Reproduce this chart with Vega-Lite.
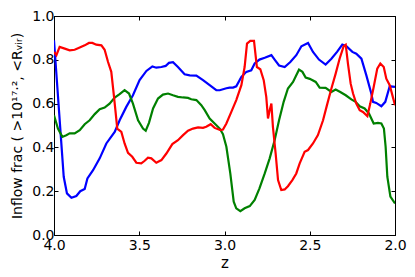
{
  "$schema": "https://vega.github.io/schema/vega-lite/v6.json",
  "width": 341,
  "height": 219,
  "autosize": "none",
  "padding": {"left": 54, "top": 16, "right": 20, "bottom": 42},
  "background": "white",
  "config": {
    "view": {"stroke": "black", "strokeWidth": 1},
    "font": "DejaVu Sans",
    "axis": {
      "grid": false,
      "domainColor": "black",
      "tickColor": "black",
      "labelColor": "black",
      "titleColor": "black",
      "labelFont": "DejaVu Sans",
      "titleFont": "DejaVu Sans",
      "labelFontSize": 14,
      "titleFontSize": 14,
      "titleFontWeight": "normal",
      "tickSize": -4,
      "labelFlush": false
    }
  },
  "data": {"values": [
    {"s":"b","z":4.000,"f":0.889},{"s":"b","z":3.943,"f":0.266},{"s":"b","z":3.924,"f":0.19},{"s":"b","z":3.898,"f":0.17},{"s":"b","z":3.869,"f":0.178},{"s":"b","z":3.846,"f":0.20},{"s":"b","z":3.820,"f":0.21},{"s":"b","z":3.804,"f":0.258},{"s":"b","z":3.771,"f":0.296},{"s":"b","z":3.732,"f":0.35},{"s":"b","z":3.693,"f":0.418},{"s":"b","z":3.644,"f":0.471},{"s":"b","z":3.615,"f":0.524},{"s":"b","z":3.576,"f":0.585},{"s":"b","z":3.537,"f":0.638},{"s":"b","z":3.498,"f":0.707},{"s":"b","z":3.458,"f":0.749},{"s":"b","z":3.423,"f":0.77},{"s":"b","z":3.400,"f":0.764},{"s":"b","z":3.370,"f":0.767},{"s":"b","z":3.345,"f":0.772},{"s":"b","z":3.326,"f":0.786},{"s":"b","z":3.302,"f":0.789},{"s":"b","z":3.273,"f":0.767},{"s":"b","z":3.234,"f":0.734},{"s":"b","z":3.204,"f":0.729},{"s":"b","z":3.165,"f":0.728},{"s":"b","z":3.126,"f":0.707},{"s":"b","z":3.087,"f":0.684},{"s":"b","z":3.048,"f":0.661},{"s":"b","z":3.028,"f":0.661},{"s":"b","z":2.989,"f":0.670},{"s":"b","z":2.970,"f":0.673},{"s":"b","z":2.950,"f":0.673},{"s":"b","z":2.931,"f":0.679},{"s":"b","z":2.901,"f":0.722},{"s":"b","z":2.872,"f":0.745},{"s":"b","z":2.843,"f":0.752},{"s":"b","z":2.823,"f":0.783},{"s":"b","z":2.795,"f":0.801},{"s":"b","z":2.764,"f":0.809},{"s":"b","z":2.725,"f":0.821},{"s":"b","z":2.706,"f":0.801},{"s":"b","z":2.680,"f":0.774},{"s":"b","z":2.647,"f":0.767},{"s":"b","z":2.614,"f":0.790},{"s":"b","z":2.579,"f":0.821},{"s":"b","z":2.549,"f":0.862},{"s":"b","z":2.510,"f":0.877},{"s":"b","z":2.481,"f":0.836},{"s":"b","z":2.446,"f":0.801},{"s":"b","z":2.407,"f":0.778},{"s":"b","z":2.373,"f":0.805},{"s":"b","z":2.340,"f":0.836},{"s":"b","z":2.309,"f":0.869},{"s":"b","z":2.285,"f":0.862},{"s":"b","z":2.250,"f":0.836},{"s":"b","z":2.227,"f":0.828},{"s":"b","z":2.197,"f":0.805},{"s":"b","z":2.168,"f":0.729},{"s":"b","z":2.139,"f":0.646},{"s":"b","z":2.129,"f":0.608},{"s":"b","z":2.110,"f":0.603},{"s":"b","z":2.080,"f":0.588},{"s":"b","z":2.057,"f":0.608},{"s":"b","z":2.031,"f":0.679},{"s":"b","z":2.000,"f":0.676},
    {"s":"g","z":4.000,"f":0.547},{"s":"g","z":3.977,"f":0.486},{"s":"g","z":3.951,"f":0.448},{"s":"g","z":3.928,"f":0.456},{"s":"g","z":3.908,"f":0.464},{"s":"g","z":3.879,"f":0.464},{"s":"g","z":3.849,"f":0.479},{"s":"g","z":3.820,"f":0.506},{"s":"g","z":3.791,"f":0.524},{"s":"g","z":3.761,"f":0.552},{"s":"g","z":3.732,"f":0.574},{"s":"g","z":3.703,"f":0.582},{"s":"g","z":3.674,"f":0.600},{"s":"g","z":3.644,"f":0.628},{"s":"g","z":3.615,"f":0.643},{"s":"g","z":3.586,"f":0.661},{"s":"g","z":3.560,"f":0.646},{"s":"g","z":3.537,"f":0.600},{"s":"g","z":3.507,"f":0.524},{"s":"g","z":3.478,"f":0.486},{"s":"g","z":3.462,"f":0.476},{"s":"g","z":3.443,"f":0.512},{"s":"g","z":3.419,"f":0.578},{"s":"g","z":3.390,"f":0.623},{"s":"g","z":3.361,"f":0.641},{"s":"g","z":3.331,"f":0.646},{"s":"g","z":3.302,"f":0.638},{"s":"g","z":3.273,"f":0.631},{"s":"g","z":3.243,"f":0.628},{"s":"g","z":3.214,"f":0.626},{"s":"g","z":3.195,"f":0.620},{"s":"g","z":3.165,"f":0.616},{"s":"g","z":3.136,"f":0.593},{"s":"g","z":3.116,"f":0.570},{"s":"g","z":3.087,"f":0.532},{"s":"g","z":3.058,"f":0.509},{"s":"g","z":3.028,"f":0.486},{"s":"g","z":3.009,"f":0.460},{"s":"g","z":2.989,"f":0.403},{"s":"g","z":2.966,"f":0.281},{"s":"g","z":2.946,"f":0.152},{"s":"g","z":2.931,"f":0.122},{"s":"g","z":2.907,"f":0.109},{"s":"g","z":2.882,"f":0.122},{"s":"g","z":2.852,"f":0.132},{"s":"g","z":2.823,"f":0.160},{"s":"g","z":2.795,"f":0.213},{"s":"g","z":2.764,"f":0.281},{"s":"g","z":2.735,"f":0.350},{"s":"g","z":2.706,"f":0.433},{"s":"g","z":2.680,"f":0.524},{"s":"g","z":2.653,"f":0.608},{"s":"g","z":2.628,"f":0.669},{"s":"g","z":2.598,"f":0.699},{"s":"g","z":2.579,"f":0.729},{"s":"g","z":2.563,"f":0.755},{"s":"g","z":2.543,"f":0.745},{"s":"g","z":2.524,"f":0.719},{"s":"g","z":2.500,"f":0.713},{"s":"g","z":2.465,"f":0.699},{"s":"g","z":2.442,"f":0.673},{"s":"g","z":2.407,"f":0.672},{"s":"g","z":2.373,"f":0.653},{"s":"g","z":2.348,"f":0.664},{"s":"g","z":2.321,"f":0.653},{"s":"g","z":2.289,"f":0.638},{"s":"g","z":2.256,"f":0.619},{"s":"g","z":2.231,"f":0.608},{"s":"g","z":2.207,"f":0.588},{"s":"g","z":2.178,"f":0.578},{"s":"g","z":2.153,"f":0.555},{"s":"g","z":2.125,"f":0.509},{"s":"g","z":2.100,"f":0.512},{"s":"g","z":2.080,"f":0.509},{"s":"g","z":2.065,"f":0.486},{"s":"g","z":2.055,"f":0.403},{"s":"g","z":2.045,"f":0.266},{"s":"g","z":2.027,"f":0.175},{"s":"g","z":2.000,"f":0.144},
    {"s":"r","z":4.000,"f":0.836},{"s":"r","z":3.986,"f":0.821},{"s":"r","z":3.967,"f":0.859},{"s":"r","z":3.937,"f":0.851},{"s":"r","z":3.908,"f":0.843},{"s":"r","z":3.879,"f":0.846},{"s":"r","z":3.849,"f":0.856},{"s":"r","z":3.820,"f":0.866},{"s":"r","z":3.795,"f":0.877},{"s":"r","z":3.775,"f":0.877},{"s":"r","z":3.752,"f":0.869},{"s":"r","z":3.722,"f":0.866},{"s":"r","z":3.703,"f":0.846},{"s":"r","z":3.683,"f":0.790},{"s":"r","z":3.664,"f":0.745},{"s":"r","z":3.650,"f":0.646},{"s":"r","z":3.638,"f":0.555},{"s":"r","z":3.629,"f":0.486},{"s":"r","z":3.605,"f":0.471},{"s":"r","z":3.586,"f":0.418},{"s":"r","z":3.566,"f":0.375},{"s":"r","z":3.541,"f":0.357},{"s":"r","z":3.517,"f":0.330},{"s":"r","z":3.488,"f":0.327},{"s":"r","z":3.468,"f":0.339},{"s":"r","z":3.449,"f":0.353},{"s":"r","z":3.429,"f":0.350},{"s":"r","z":3.400,"f":0.330},{"s":"r","z":3.370,"f":0.342},{"s":"r","z":3.341,"f":0.372},{"s":"r","z":3.306,"f":0.415},{"s":"r","z":3.273,"f":0.433},{"s":"r","z":3.243,"f":0.456},{"s":"r","z":3.214,"f":0.476},{"s":"r","z":3.185,"f":0.486},{"s":"r","z":3.155,"f":0.491},{"s":"r","z":3.126,"f":0.489},{"s":"r","z":3.107,"f":0.494},{"s":"r","z":3.081,"f":0.506},{"s":"r","z":3.058,"f":0.489},{"s":"r","z":3.024,"f":0.479},{"s":"r","z":3.009,"f":0.482},{"s":"r","z":2.989,"f":0.509},{"s":"r","z":2.960,"f":0.562},{"s":"r","z":2.931,"f":0.616},{"s":"r","z":2.901,"f":0.684},{"s":"r","z":2.882,"f":0.767},{"s":"r","z":2.868,"f":0.874},{"s":"r","z":2.849,"f":0.886},{"s":"r","z":2.827,"f":0.886},{"s":"r","z":2.810,"f":0.767},{"s":"r","z":2.790,"f":0.757},{"s":"r","z":2.770,"f":0.707},{"s":"r","z":2.755,"f":0.631},{"s":"r","z":2.745,"f":0.532},{"s":"r","z":2.735,"f":0.570},{"s":"r","z":2.725,"f":0.600},{"s":"r","z":2.716,"f":0.494},{"s":"r","z":2.700,"f":0.372},{"s":"r","z":2.686,"f":0.251},{"s":"r","z":2.667,"f":0.205},{"s":"r","z":2.647,"f":0.208},{"s":"r","z":2.628,"f":0.223},{"s":"r","z":2.602,"f":0.251},{"s":"r","z":2.579,"f":0.281},{"s":"r","z":2.559,"f":0.327},{"s":"r","z":2.530,"f":0.380},{"s":"r","z":2.510,"f":0.388},{"s":"r","z":2.481,"f":0.418},{"s":"r","z":2.452,"f":0.456},{"s":"r","z":2.422,"f":0.524},{"s":"r","z":2.399,"f":0.593},{"s":"r","z":2.373,"f":0.669},{"s":"r","z":2.348,"f":0.737},{"s":"r","z":2.325,"f":0.805},{"s":"r","z":2.301,"f":0.862},{"s":"r","z":2.289,"f":0.869},{"s":"r","z":2.276,"f":0.783},{"s":"r","z":2.260,"f":0.691},{"s":"r","z":2.246,"f":0.646},{"s":"r","z":2.227,"f":0.600},{"s":"r","z":2.207,"f":0.570},{"s":"r","z":2.188,"f":0.562},{"s":"r","z":2.162,"f":0.543},{"s":"r","z":2.145,"f":0.600},{"s":"r","z":2.125,"f":0.676},{"s":"r","z":2.104,"f":0.760},{"s":"r","z":2.086,"f":0.783},{"s":"r","z":2.066,"f":0.767},{"s":"r","z":2.051,"f":0.714},{"s":"r","z":2.031,"f":0.684},{"s":"r","z":2.000,"f":0.593}
  ]},
  "layer": [
    {
      "mark": {"type": "line", "strokeWidth": 2.2, "clip": true},
      "encoding": {
        "x": {"field": "z", "type": "quantitative", "scale": {"domain": [2, 4], "reverse": true, "nice": false, "zero": false},
              "axis": {"title": "z", "values": [4, 3.5, 3, 2.5, 2], "format": ".1f", "labelPadding": 7, "titlePadding": 3, "titleFontSize": 15}},
        "y": {"field": "f", "type": "quantitative", "scale": {"domain": [0, 1], "nice": false},
              "axis": {"title": "Inflow frac ( >10¹⁷·², <Rᵥᵢᵣ)", "values": [0, 0.2, 0.4, 0.6, 0.8, 1.0], "format": ".1f", "labelPadding": 4, "titlePadding": 7}},
        "color": {"field": "s", "type": "nominal", "scale": {"domain": ["b", "g", "r"], "range": ["#0000ff", "#008000", "#ff0000"]}, "legend": null}
      }
    },
    {
      "mark": {"type": "line", "opacity": 0},
      "encoding": {
        "x": {"field": "z", "type": "quantitative", "scale": {"domain": [2, 4], "reverse": true, "nice": false, "zero": false},
              "axis": {"orient": "top", "title": null, "labels": false, "values": [4, 3.5, 3, 2.5, 2]}},
        "y": {"field": "f", "type": "quantitative", "scale": {"domain": [0, 1], "nice": false},
              "axis": {"orient": "right", "title": null, "labels": false, "values": [0, 0.2, 0.4, 0.6, 0.8, 1.0]}},
        "detail": {"field": "s"}
      }
    }
  ],
  "resolve": {"axis": {"x": "independent", "y": "independent"}}
}
